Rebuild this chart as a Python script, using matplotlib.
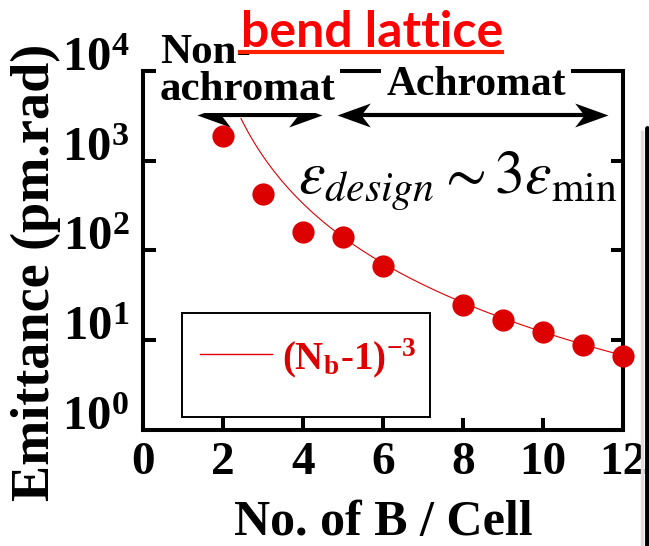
import numpy as np
import matplotlib
matplotlib.use("Agg")
import matplotlib.pyplot as plt
from matplotlib.ticker import FuncFormatter, FixedLocator
from matplotlib.patches import Rectangle
from matplotlib.lines import Line2D
from matplotlib.path import Path

# emittance vs. number of bends per cell
nb = [2, 3, 4, 5, 6, 8, 9, 10, 11, 12]
emittance = [1900, 430, 160, 140, 67, 24.5, 17, 12.2, 8.8, 6.7]

# scaling curve A*(Nb-1)^-3
scale_a = 9000
nb_curve = np.linspace(2.45, 12, 200)
emit_curve = scale_a * (nb_curve - 1) ** -3

x_ticks = [0, 2, 4, 6, 8, 10, 12]
y_exps = [0, 1, 2, 3, 4]

# extent of the two lattice regions (arrows)
arrow_y = 3270
nonachro_span = (1.35, 4.475)
achro_span = (4.85, 11.625)

red = "#dd0000"
plt.rcParams["font.family"] = "Liberation Serif"
plt.rcParams["axes.labelweight"] = "bold"
plt.rcParams["mathtext.fontset"] = "stix"

fig = plt.figure(figsize=(6.49, 5.46), dpi=100)
ax = fig.add_axes([0.2203, 0.2125, 0.7396, 0.6575])

ax.plot(nb_curve, emit_curve, color=red, lw=0.8, zorder=3)
ax.plot(nb, emittance, "o", color=red, ms=16, mec="none", zorder=4, clip_on=False)

ax.set_yscale("log")
ax.set_xlim(0, 12)
ax.set_ylim(1, 1e4)
ax.xaxis.set_major_locator(FixedLocator(x_ticks))
ax.yaxis.set_major_locator(FixedLocator([10.0 ** e for e in y_exps]))
ax.yaxis.set_minor_locator(FixedLocator([]))
ax.yaxis.set_major_formatter(
    FuncFormatter(lambda v, p: r"$\mathdefault{10^{%d}}$" % round(np.log10(v))))

for s in ax.spines.values():
    s.set_linewidth(2.9)
ax.tick_params(axis="both", which="major", direction="in", length=9, width=2.9,
               right=True, top=False)
ax.tick_params(axis="x", labelsize=34, pad=9)
ax.tick_params(axis="y", labelsize=35, pad=10)
for t in ax.xaxis.get_major_ticks():
    t.label1.set_fontweight("bold")
for t in ax.yaxis.get_major_ticks():
    t.label1.set_fontweight("bold")
    t.label1.set_verticalalignment("baseline")

ax.set_xlabel("No. of B / Cell", fontsize=36, labelpad=11)
ax.set_ylabel("Emittance (pm.rad)", fontsize=39)
ax.yaxis.set_label_coords(-0.17, 0.44)

# double arrows with barbed heads
head_r = Path([(0, 0), (-1, 0.36), (-0.72, 0), (-1, -0.36), (0, 0)],
              [Path.MOVETO, Path.LINETO, Path.LINETO, Path.LINETO, Path.CLOSEPOLY])
head_l = Path([(0, 0), (1, 0.36), (0.72, 0), (1, -0.36), (0, 0)],
              [Path.MOVETO, Path.LINETO, Path.LINETO, Path.LINETO, Path.CLOSEPOLY])
for x0, x1 in (nonachro_span, achro_span):
    ax.plot([x0 + 0.25, x1 - 0.25], [arrow_y, arrow_y], color="black", lw=3,
            solid_capstyle="butt", zorder=5, clip_on=False)
    ax.plot([x0], [arrow_y], marker=head_l, ms=48, color="black", mec="none",
            zorder=5, clip_on=False)
    ax.plot([x1], [arrow_y], marker=head_r, ms=48, color="black", mec="none",
            zorder=5, clip_on=False)

white = dict(facecolor="white", edgecolor="none", pad=3)
fig.text(160 / 649, 1 - 63 / 546, "Non-", fontsize=31, weight="bold", ha="left",
         va="baseline", bbox=white, zorder=6)
fig.text(160 / 649, 1 - 100 / 546, "achromat", fontsize=31, weight="bold", ha="left",
         va="baseline", bbox=white, zorder=6)
fig.text(476 / 649, 1 - 95 / 546, "Achromat", fontsize=30, weight="bold", ha="center",
         va="baseline", bbox=dict(facecolor="white", edgecolor="none", pad=4), zorder=6)

fig.text(372 / 649, 1 - 47 / 546, "bend lattice", fontsize=36, color="#ff0000",
         family="Lato", weight="bold", ha="center", va="baseline", zorder=7)
fig.add_artist(Line2D([240 / 649, 502 / 649], [1 - 52 / 546] * 2,
                      color="#ff2200", lw=3, zorder=8))

fig.text(298 / 649, 1 - 194 / 546, r"$\varepsilon_{design} \sim 3\varepsilon_{\rm min}$",
         fontsize=43, ha="left", va="baseline", zorder=6)

# legend box
ax.add_patch(Rectangle((0.081, 0.036), 0.517, 0.29, transform=ax.transAxes,
                       facecolor="white", edgecolor="black", lw=1.4, zorder=6))
ax.add_line(Line2D([0.119, 0.269], [0.212, 0.212], transform=ax.transAxes,
                   color=red, lw=1, zorder=7))
ax.text(0.29, 0.20, r"(N$_\mathdefault{b}$-1)$^\mathdefault{-3}$", transform=ax.transAxes,
        fontsize=28, weight="bold", color=red, ha="left", va="center", zorder=7)

# edge of neighbouring panel
fig.add_artist(Line2D([641.5 / 649] * 2, [0, 1 - 132 / 546], color="#dddddd", lw=2.5))
fig.add_artist(Line2D([646.5 / 649] * 2, [0, 1 - 128 / 546], color="black",
                      lw=3.5, solid_capstyle="round"))

fig.savefig("out.png", dpi=100)
